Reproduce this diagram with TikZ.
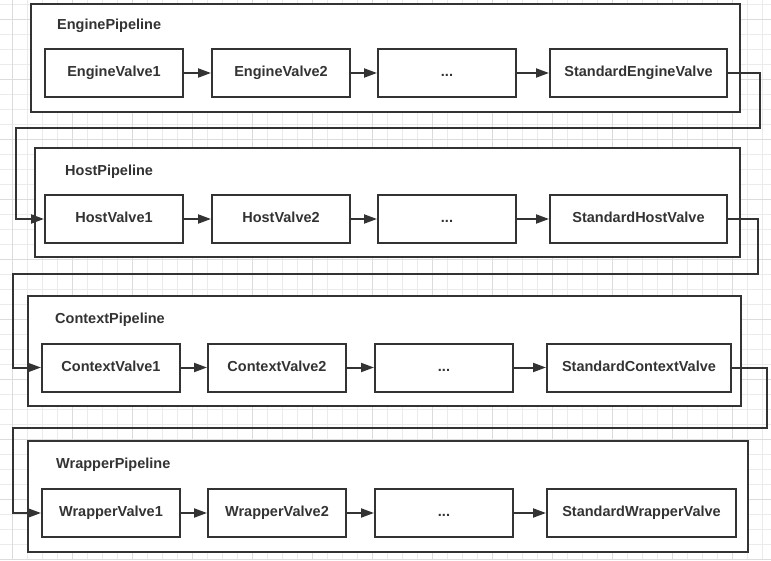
\documentclass[tikz,border=0pt]{standalone}
\usepackage{fontspec}
\setmainfont{Liberation Sans}
\usepackage{xcolor}
\usepackage{tikz}
\usetikzlibrary{positioning, arrows.meta}
\definecolor{ink}{HTML}{333333}
\definecolor{minorgrid}{HTML}{EBEBEB}
\definecolor{majorgrid}{HTML}{DCDCDC}

\begin{document}
\begin{tikzpicture}[x=1pt,y=-1pt,
		font=\fontsize{14.5}{17}\selectfont\bfseries,
		pipe/.style 2 args={
			rectangle,
			draw=ink,
			line width=2pt,
			fill=white,
			minimum width=#1,
			minimum height=#2,
			inner sep=0pt},
		valve/.style={
			rectangle,
			draw=ink,
			line width=2pt,
			fill=white,
			text=ink,
			text height=10.5pt,
			text depth=3pt,
			minimum width=#1,
			minimum height=48pt,
			inner sep=0pt},
		valve/.default=138pt,
		lbl/.style={anchor=west, text=ink, inner sep=0pt},
		flow/.style={draw=ink, line width=2pt, -{Triangle[length=13pt,width=9pt]}}
		]
		\useasboundingbox (0,0) rectangle (771,560);
		\fill[white] (0,0) rectangle (771,560);
		\foreach \gx in {12,27,...,771}
		\draw[minorgrid, line width=1pt] (\gx,0) -- (\gx,560);
		\foreach \gy in {4,19,...,560}
		\draw[minorgrid, line width=1pt] (0,\gy) -- (771,\gy);
		\foreach \gx in {12,72,...,771}
		\draw[majorgrid, line width=1pt] (\gx,0) -- (\gx,560);
		\foreach \gy in {19,79,...,560}
		\draw[majorgrid, line width=1pt] (0,\gy) -- (771,\gy);
		\node[pipe={709pt}{108pt}] (ep) at (385.5, 58) {};
		\node[pipe={705pt}{109pt}] (hp) at (387.5, 202.5) {};
		\node[pipe={713pt}{110pt}] (cp) at (384.5, 351) {};
		\node[pipe={720pt}{111pt}] (wp) at (388, 496.5) {};
		\node[lbl] (el) at (57, 26) {EnginePipeline};
		\node[lbl] (hl) at (65, 172) {HostPipeline};
		\node[lbl] (cl) at (55, 320) {ContextPipeline};
		\node[lbl] (wl) at (56, 465) {WrapperPipeline};
		\node[valve] (ev1) at (114, 73) {EngineValve1};
		\node[valve] (ev2) at (281, 73) {EngineValve2};
		\node[valve] (ev3) at (447, 73) {...};
		\node[valve=177pt] (ev4) at (638.5, 73) {StandardEngineValve};
		\node[valve] (hv1) at (114, 219) {HostValve1};
		\node[valve] (hv2) at (281, 219) {HostValve2};
		\node[valve] (hv3) at (447, 219) {...};
		\node[valve=177pt] (hv4) at (638.5, 219) {StandardHostValve};
		\node[valve] (cv1) at (111, 367.5) {ContextValve1};
		\node[valve] (cv2) at (277, 367.5) {ContextValve2};
		\node[valve] (cv3) at (444, 367.5) {...};
		\node[valve=184pt] (cv4) at (639, 367.5) {StandardContextValve};
		\node[valve] (wv1) at (111, 513) {WrapperValve1};
		\node[valve] (wv2) at (277, 513) {WrapperValve2};
		\node[valve] (wv3) at (444, 513) {...};
		\node[valve=189pt] (wv4) at (641.5, 513) {StandardWrapperValve};
		\foreach \r in {e,h,c,w}
		\foreach \i [count=\nx from 2] in {1,2,3}
		\draw[flow] (\r v\i.east) -- (\r v\nx.west);
		\draw[flow] (ev4.east) -- ++(32,0) -- ++(0,55) -- ++(-744,0) |- (hv1.west);
		\draw[flow] (hv4.east) -- ++(30,0) -- ++(0,55) -- ++(-745,0) |- (cv1.west);
		\draw[flow] (cv4.east) -- ++(35,0) -- ++(0,60.5) -- ++(-754,0) |- (wv1.west);
		\end{tikzpicture}
\end{document}
